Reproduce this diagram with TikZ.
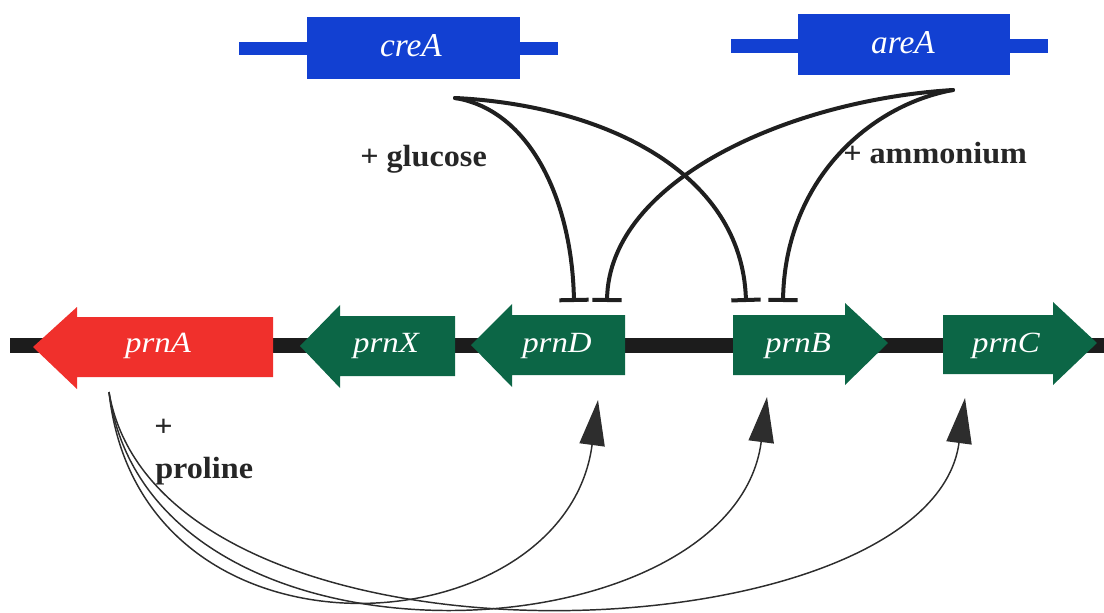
\documentclass[tikz,border=0pt]{standalone}
\usepackage{fontspec}
\setmainfont{Liberation Serif}
\newfontfamily\genefont[FakeStretch=1.12]{Liberation Serif}
\newfontfamily\condfont[FakeStretch=1.05]{Liberation Serif}
\usetikzlibrary{arrows.meta}
\definecolor{geneGreen}{RGB}{12,102,70}
\definecolor{geneRed}{RGB}{240,48,44}
\definecolor{regBlue}{RGB}{18,64,210}
\definecolor{dnaBlack}{RGB}{28,28,28}
\definecolor{wireGray}{RGB}{45,45,45}
\tikzset{
  x=0.75pt, y=-0.75pt,
  genelabel/.style={text=white, font=\genefont\itshape\fontsize{22}{24}\selectfont, inner sep=0pt},
  reglabel/.style={text=white, font=\itshape\fontsize{25}{27}\selectfont, inner sep=0pt},
  condlabel/.style={text=black!85, font=\condfont\bfseries\fontsize{23}{25}\selectfont, inner sep=0pt, anchor=base west},
  repress/.style={draw=black!88, line width=3pt, line cap=round, -{Bar[width=22pt,line width=3pt]}},
  induce/.style={draw=wireGray, line width=1.1pt, -{Triangle[length=34pt,width=19pt]}},
}
\begin{document}
\begin{tikzpicture}
\useasboundingbox (0,0) rectangle (1104,613);

% DNA backbone
\fill[dnaBlack] (10,338) rectangle (1104,353);

% genes pointing left
\fill[geneRed] (33,347) -- (77,307) -- (77,317) -- (273,317) -- (273,377) -- (77,377) -- (77,389) -- cycle;
\fill[geneGreen] (300,346) -- (340,305) -- (340,316) -- (455,316) -- (455,376) -- (340,376) -- (340,388) -- cycle;
\fill[geneGreen] (471,345) -- (512,304) -- (512,315) -- (625,315) -- (625,375) -- (512,375) -- (512,387) -- cycle;
% genes pointing right
\fill[geneGreen] (733,315) -- (845,315) -- (845,303) -- (888,343) -- (845,385) -- (845,375) -- (733,375) -- cycle;
\fill[geneGreen] (943,315) -- (1053,315) -- (1053,302) -- (1097,343) -- (1053,385) -- (1053,374) -- (943,374) -- cycle;

\node[genelabel] (prnA) at (158,346) {prnA};
\node[genelabel] (prnX) at (386,346) {prnX};
\node[genelabel] (prnD) at (557,346) {prnD};
\node[genelabel] (prnB) at (798,346) {prnB};
\node[genelabel] (prnC) at (1006,346) {prnC};

% regulator genes
\fill[regBlue] (239,42) rectangle (558,55);
\fill[regBlue] (307,17) rectangle (520,79);
\fill[regBlue] (731,39) rectangle (1048,53);
\fill[regBlue] (798,14) rectangle (1010,75);
\node[reglabel] (creA) at (411,46) {creA};
\node[reglabel] (areA) at (903,43) {areA};

% repression wiring
\coordinate (creSrc) at (455,98);
\coordinate (areSrc) at (953,90);
\coordinate (barD1) at (574,302);
\coordinate (barD2) at (607,302);
\coordinate (barB1) at (746,302);
\coordinate (barB2) at (783,302);
\draw[repress] (creSrc) .. controls (530,110) and (572,200) .. (barD1);
\draw[repress] (creSrc) .. controls (600,105) and (742,170) .. (barB1);
\draw[repress] (areSrc) .. controls (790,100) and (609,180) .. (barD2);
\draw[repress] (areSrc) .. controls (870,105) and (785,180) .. (barB2);

\node[condlabel] (glucose) at (360,167) {+ glucose};
\node[condlabel] (ammonium) at (843,164) {+ ammonium};

% induction wiring
\coordinate (proSrc) at (109,392);
\coordinate (tipD) at (598,400);
\coordinate (tipB) at (767,397);
\coordinate (tipC) at (965,398);
\draw[induce] (proSrc) .. controls (140,680) and (565,650) .. (tipD);
\draw[induce] (proSrc) .. controls (150,690) and (733,660) .. (tipB);
\draw[induce] (proSrc) .. controls (160,690) and (930,660) .. (tipC);

\node[condlabel] (plus) at (154,436) {+};
\node[condlabel] (proline) at (155,478) {proline};
\end{tikzpicture}
\end{document}
